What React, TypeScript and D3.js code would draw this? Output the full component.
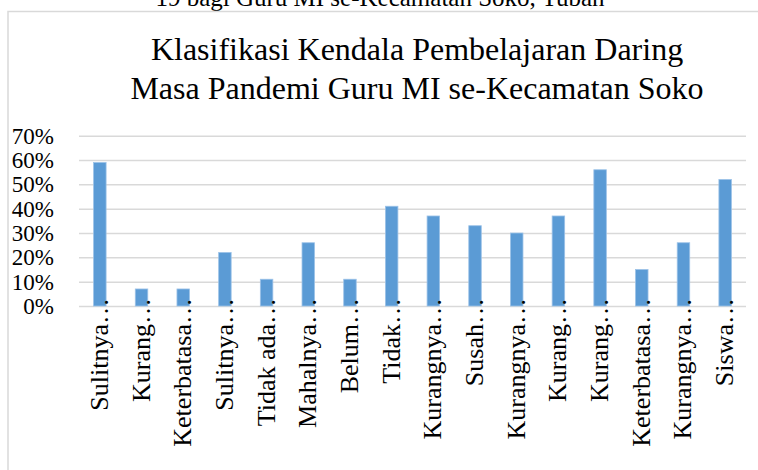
//@ts-nocheck
import React, { useRef, useEffect } from 'react'
import * as d3 from 'd3'

const headingCut = '19 bagi Guru MI se-Kecamatan Soko, Tuban'
const titleLines = ['Klasifikasi Kendala Pembelajaran Daring', 'Masa Pandemi Guru MI se-Kecamatan Soko']

const categories = [
  'Sulitnya…',
  'Kurang…',
  'Keterbatasa…',
  'Sulitnya…',
  'Tidak ada…',
  'Mahalnya…',
  'Belum…',
  'Tidak…',
  'Kurangnya…',
  'Susah…',
  'Kurangnya…',
  'Kurang…',
  'Kurang…',
  'Keterbatasa…',
  'Kurangnya…',
  'Siswa…'
]
const values = [0.59, 0.07, 0.07, 0.22, 0.11, 0.26, 0.11, 0.41, 0.37, 0.33, 0.3, 0.37, 0.56, 0.15, 0.26, 0.52]
const yTicks = [0, 0.1, 0.2, 0.3, 0.4, 0.5, 0.6, 0.7]

const W = 758
const H = 470
const FONT = '"Liberation Serif", "Times New Roman", serif'

const Chart = () => {
  const node = useRef(null)

  useEffect(() => {
    const svg = d3.select(node.current)
    svg.selectAll('*').remove()

    const margin = { top: 135.7, right: 12, bottom: 164, left: 79 }
    const keys = categories.map((c, i) => i)

    const x = d3
      .scaleBand()
      .domain(keys)
      .range([margin.left, W - margin.right])
      .paddingInner(0.7)
      .paddingOuter(0.35)

    const y = d3
      .scaleLinear()
      .domain([0, 0.7])
      .range([H - margin.bottom, margin.top])

    svg.append('rect').attr('width', W).attr('height', H).attr('fill', '#fff')

    // heading of the page above the chart, cut off at the top
    svg
      .append('text')
      .attr('x', 380)
      .attr('y', 6)
      .attr('text-anchor', 'middle')
      .attr('font-family', FONT)
      .attr('font-size', 25)
      .attr('fill', '#000')
      .text(headingCut)

    // chart area border
    svg
      .append('rect')
      .attr('x', 8)
      .attr('y', 11.5)
      .attr('width', 800)
      .attr('height', 500)
      .attr('fill', '#fff')
      .attr('stroke', '#d9d9d9')
      .attr('stroke-width', 1.5)

    svg
      .append('g')
      .selectAll('text')
      .data(titleLines)
      .join('text')
      .attr('x', 417)
      .attr('y', (d, i) => 60 + i * 39)
      .attr('text-anchor', 'middle')
      .attr('font-family', FONT)
      .attr('font-size', 32)
      .attr('fill', '#000')
      .text((d) => d)

    // grid + y labels
    const yAxis = (g) =>
      g
        .call(
          d3
            .axisLeft(y)
            .tickValues(yTicks)
            .tickFormat(d3.format('.0%'))
            .tickSize(-(W - margin.right - margin.left))
            .tickPadding(25)
        )
        .call((g) => g.select('.domain').remove())
        .call((g) => g.selectAll('.tick line').attr('stroke', '#d9d9d9').attr('stroke-width', 1.5))
        .call((g) =>
          g
            .selectAll('.tick text')
            .attr('font-family', FONT)
            .attr('font-size', 23)
            .attr('fill', '#000')
        )

    svg.append('g').attr('transform', `translate(${margin.left},0)`).call(yAxis)

    svg
      .append('g')
      .selectAll('rect')
      .data(values)
      .join('rect')
      .attr('x', (d, i) => x(i))
      .attr('y', (d) => y(d))
      .attr('width', x.bandwidth())
      .attr('height', (d) => y(0) - y(d))
      .attr('fill', '#5b9bd5')
      .attr('stroke', '#9cc2e8')
      .attr('stroke-width', 0.8)

    // rotated category labels
    svg
      .append('g')
      .selectAll('text')
      .data(categories)
      .join('text')
      .attr('transform', (d, i) => `translate(${x(i) + x.bandwidth() / 2 + 8},298) rotate(-90)`)
      .attr('text-anchor', 'end')
      .attr('font-family', FONT)
      .attr('font-size', 26)
      .attr('fill', '#000')
      .text((d) => d)
  }, [node])

  return <svg ref={node} width={W} height={H} style={{ position: 'absolute', left: 0, top: 0 }}></svg>
}

export default function App() {
  return <Chart />
}
